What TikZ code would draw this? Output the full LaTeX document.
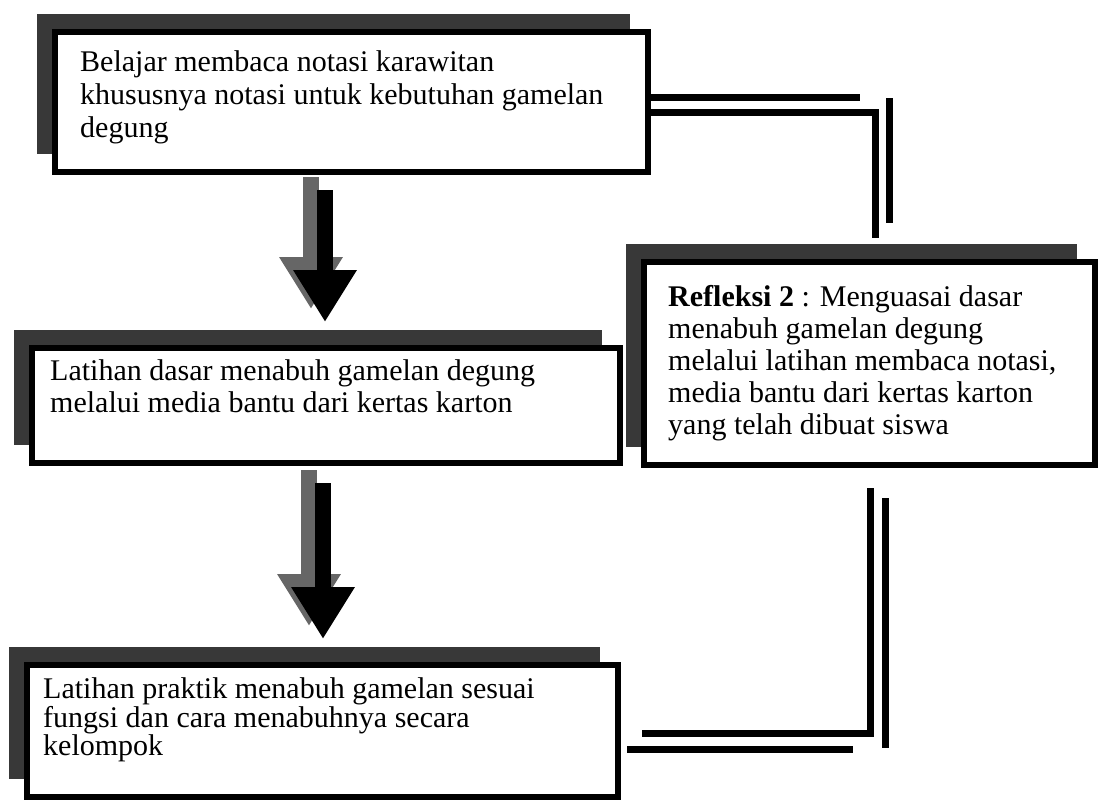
\documentclass[tikz,border=0pt]{standalone}
\usepackage{fontspec}
\setmainfont{Liberation Serif}
\usetikzlibrary{arrows.meta,shadows}

\begin{document}
\begin{tikzpicture}[x=1pt, y=-1pt,
    kotak/.style={rectangle, draw=black, line width=6pt, fill=white, inner sep=0pt,
      drop shadow={shadow xshift=-18pt, shadow yshift=18pt, fill=black!78, opacity=1}},
    teks/.style={anchor=north west, inner sep=0pt, align=left, font=\fontsize{30}{33}\selectfont},
    garis/.style={line width=7pt},
    panah/.style={line width=16pt, -{Triangle[width=60pt, length=52pt]}},
    bayang/.style={draw=black!60}]
  \useasboundingbox (0,0) rectangle (1098,800);
  % Kotak kegiatan
  \node at (351.5,102) (kotak1) [kotak, minimum width=593pt, minimum height=140pt] {};
  \node at (326,405.5) (kotak2) [kotak, minimum width=588pt, minimum height=115pt] {};
  \node at (322.5,731) (kotak3) [kotak, minimum width=591pt, minimum height=132pt] {};
  \node at (869.5,363.5) (refleksi) [kotak, minimum width=451pt, minimum height=203pt] {};
  % Teks di dalam kotak
  \node at (80,50.5) (teks1) [teks] {Belajar membaca notasi karawitan\\khususnya notasi untuk kebutuhan gamelan\\degung};
  \node at (50,359.5) (teks2) [teks, font=\fontsize{30}{32}\selectfont] {Latihan dasar menabuh gamelan degung\\melalui media bantu dari kertas karton};
  \node at (43,677.5) (teks3) [teks, font=\fontsize{30}{27}\selectfont] {Latihan praktik menabuh gamelan sesuai\\fungsi dan cara menabuhnya secara\\kelompok};
  \node at (668,285.5) (teks4) [teks, font=\fontsize{30}{32}\selectfont] {\textbf{Refleksi 2} : Menguasai dasar\\menabuh gamelan degung\\melalui latihan membaca notasi,\\media bantu dari kertas karton\\yang telah dibuat siswa};
  % Panah tebal ke bawah
  \coordinate (a1) at (325,190);
  \coordinate (a2) at (323,483);
  \draw[panah, bayang] ([shift={(-14,-13)}]a1) -- ([shift={(-14,-36)}]a1 |- kotak2.north);
  \draw[panah] (a1) -- ([yshift=23pt]a1 |- kotak2.north);
  \draw[panah, bayang] ([shift={(-14,-13)}]a2) -- ([shift={(-14,-36)}]a2 |- kotak3.north);
  \draw[panah] (a2) -- ([yshift=23pt]a2 |- kotak3.north);
  % Garis ganda ke refleksi
  \coordinate (ujungA) at (860,97);
  \coordinate (sudutB) at (875,112);
  \coordinate (ujungB) at (875,238);
  \coordinate (atasC) at (889,98);
  \coordinate (bawahC) at (889,223);
  \draw[garis] ([yshift=5pt]kotak1.east) -- (ujungA);
  \draw[garis] ([yshift=-10pt]kotak1.east) -- (sudutB) -- (ujungB);
  \draw[garis] (atasC) -- (bawahC);
  % Garis ganda dari refleksi
  \coordinate (sudutD) at (870,733);
  \coordinate (ujungD) at (642,733);
  \coordinate (atasE) at (885,498);
  \coordinate (bawahE) at (885,748);
  \coordinate (kiriE) at (627,749);
  \coordinate (kananE) at (853,749);
  \draw[garis, shorten <=20pt] (refleksi.south -| sudutD) -- (sudutD) -- (ujungD);
  \draw[garis] (atasE) -- (bawahE);
  \draw[garis] (kiriE) -- (kananE);
\end{tikzpicture}
\end{document}
